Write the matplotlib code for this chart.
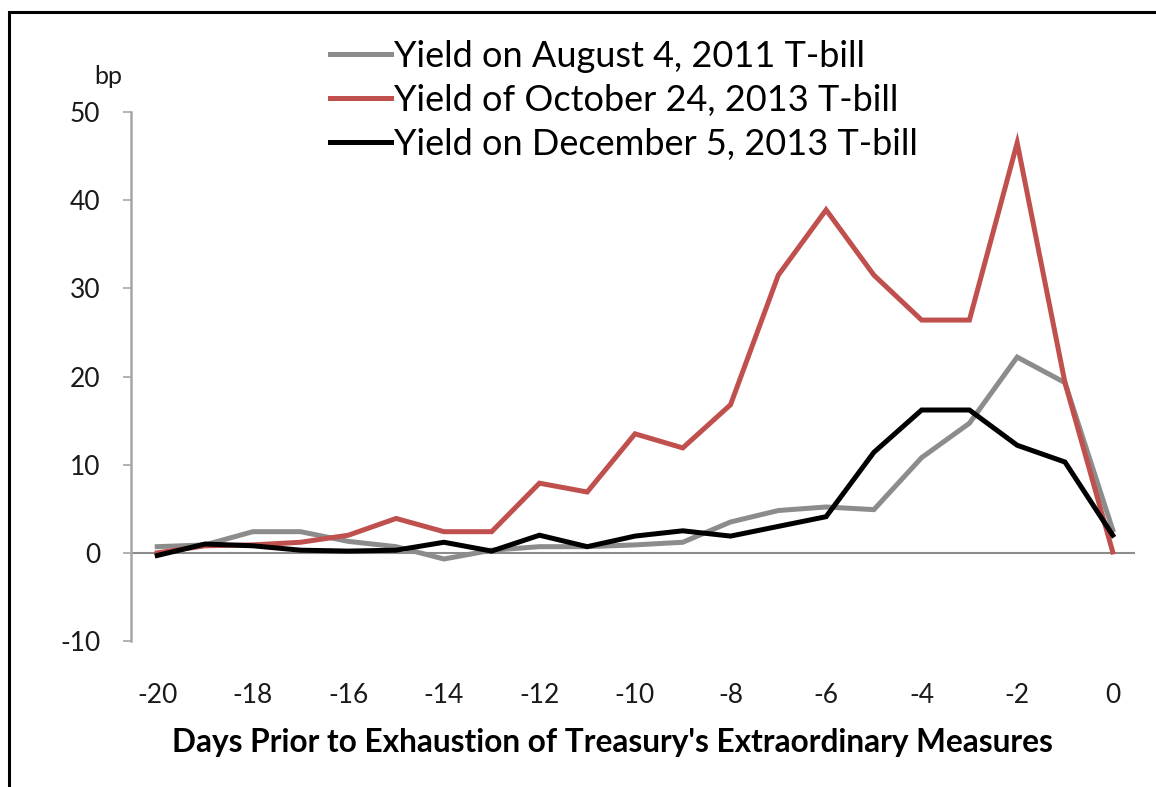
"""
    Treasury bill yields ahead of debt-limit exhaustion
"""
import matplotlib
matplotlib.use('Agg')
import matplotlib.pyplot as plt
from matplotlib.patches import Rectangle

matplotlib.rcParams.update({'font.family': ['Lato', 'DejaVu Sans'],
                            'axes.unicode_minus': False})

days = list(range(-20, 1))
aug_2011 = [0.7, 0.9, 2.4, 2.4, 1.3, 0.7, -0.7, 0.3, 0.7, 0.7, 0.9, 1.2,
            3.5, 4.8, 5.2, 4.9, 10.8, 14.7, 22.2, 19.3, 2.6]
oct_2013 = [0.0, 0.8, 0.9, 1.2, 2.0, 3.9, 2.4, 2.4, 7.9, 6.9, 13.5, 11.9,
            16.8, 31.5, 38.9, 31.5, 26.4, 26.4, 46.5, 19.3, 0.1]
dec_2013 = [-0.3, 1.0, 0.8, 0.3, 0.2, 0.3, 1.2, 0.2, 2.0, 0.7, 1.9, 2.5,
            1.9, 3.0, 4.1, 11.4, 16.2, 16.2, 12.2, 10.3, 2.0]
labels = ['Yield on August 4, 2011 T-bill',
          'Yield of October 24, 2013 T-bill',
          'Yield on December 5, 2013 T-bill']
colors = ['#8c8c8c', '#c0504d', '#000000']
y_ticks = [-10, 0, 10, 20, 30, 40, 50]
x_ticks = list(range(-20, 1, 2))

fig = plt.figure(figsize=(11.56, 7.87), dpi=100)
ax = fig.add_axes([0.1133, 0.1855, 0.8687, 0.6722])

# black frame round the picture (right/bottom edges run off the canvas)
fig.patches.append(Rectangle((9 / 1156, -0.02), 1.05, 1 - 12 / 787 + 0.02,
                             transform=fig.transFigure, fill=False,
                             edgecolor='black', linewidth=2.2, zorder=0))

ax.axhline(0, color='#8c8c8c', linewidth=1.5, zorder=1)
for series, lab, col in zip([aug_2011, oct_2013, dec_2013], labels, colors):
    ax.plot(days, series, color=col, linewidth=3.6, label=lab, zorder=2,
            solid_joinstyle='miter')

ax.set_xlim(-20.55, 0.47)
ax.set_ylim(-10, 50)
ax.set_yticks(y_ticks)
ax.set_xticks(x_ticks)

for s in ['top', 'right', 'bottom']:
    ax.spines[s].set_visible(False)
ax.spines['left'].set_color('#a6a6a6')
ax.spines['left'].set_linewidth(1.8)

ax.tick_params(axis='y', length=6, width=1.2, color='#a6a6a6', pad=16,
               labelsize=19, labelcolor='#1a1a1a')
ax.tick_params(axis='x', length=0, pad=30, labelsize=19, labelcolor='#1a1a1a')

ax.set_xlabel("Days Prior to Exhaustion of Treasury's Extraordinary Measures",
              fontsize=22.8, fontweight='bold')
ax.xaxis.set_label_coords(0.479, -0.165)
fig.text(94 / 1156, 1 - 76 / 787, 'bp', fontsize=18, va='center', ha='left',
         color='#1a1a1a')

ax.legend(loc='upper left', bbox_to_anchor=(312 / 1156, 1 - 22 / 787),
          bbox_transform=fig.transFigure, frameon=False, fontsize=26,
          handlelength=1.7, handletextpad=0.08, labelspacing=0.3,
          borderpad=0)

fig.savefig('out.png', dpi=100)
